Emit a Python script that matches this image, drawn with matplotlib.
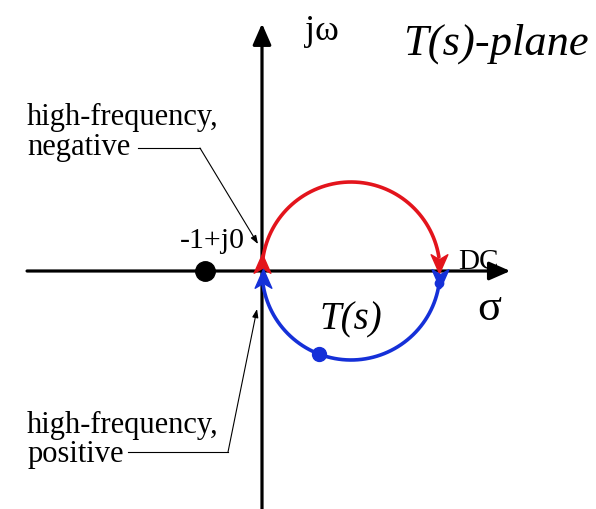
import numpy as np
import matplotlib
matplotlib.use("Agg")
import matplotlib.pyplot as plt
from matplotlib.patches import FancyArrowPatch
from matplotlib.path import Path

# Nyquist-style locus of T(s): a circle of unit radius centred on (1, 0)
center = (1.0, 0.0)
radius = 1.0
gap_deg = 6.0                       # small gap where each branch meets the real axis
critical_point = (-0.64, 0.0)       # "-1+j0"
marked_angle_deg = -111.0           # dot on the positive-frequency branch

# axis extents (data units)
x_axis = (-2.64, 2.79)
y_axis = (-2.68, 2.78)

RED = "#e3141c"
BLUE = "#1530d8"
SERIF = ["Liberation Serif", "DejaVu Serif"]

fig = plt.figure(figsize=(5.96, 5.10), dpi=100)
ax = fig.add_axes([0, 0, 1, 1])
ax.set_xlim(-2.944, 3.753)
ax.set_ylim(-2.674, 3.056)
ax.set_aspect("equal")
ax.axis("off")

# coordinate axes with arrow heads
for start, end in [((x_axis[0], 0), (x_axis[1], 0)), ((0, y_axis[0]), (0, y_axis[1]))]:
    ax.add_patch(FancyArrowPatch(start, end, arrowstyle="-|>,head_length=8,head_width=3.5",
                                 mutation_scale=1.6, lw=2.3, color="black",
                                 shrinkA=0, shrinkB=0, zorder=2))


def arc(t0, t1, n=200):
    t = np.radians(np.linspace(t0, t1, n))
    return center[0] + radius * np.cos(t), center[1] + radius * np.sin(t)


# stealth-shaped marker pointing up, used for heads and tails of the branches
stealth_up = Path([(0, 1.0), (0.75, -0.7), (0, -0.25), (-0.75, -0.7), (0, 1.0)],
                  [Path.MOVETO, Path.LINETO, Path.LINETO, Path.LINETO, Path.CLOSEPOLY])
stealth_down = Path([(x, -y) for x, y in stealth_up.vertices], stealth_up.codes)

# negative frequencies: from the origin clockwise over the top to DC
xr, yr = arc(180 - gap_deg, gap_deg + 3)
ax.plot(xr, yr, color=RED, lw=2.6, solid_capstyle="round", zorder=3)
ax.plot(xr[0], yr[0] - 0.04, marker=stealth_up, ms=16, color=RED, zorder=4)
ax.plot(xr[-1], yr[-1] - 0.06, marker=stealth_down, ms=16, color=RED, zorder=4)

# positive frequencies: from DC clockwise under the axis back to the origin
xb, yb = arc(-gap_deg, -180 + gap_deg + 3)
ax.plot(xb, yb, color=BLUE, lw=2.6, solid_capstyle="round", zorder=3)
ax.plot(xb[0], yb[0] + 0.04, marker=stealth_down, ms=16, color=BLUE, zorder=4)
ax.plot(xb[0] - 0.01, yb[0] - 0.03, "o", ms=6, color=BLUE, zorder=4)
ax.plot(xb[-1], yb[-1] + 0.06, marker=stealth_up, ms=16, color=BLUE, zorder=4)

ma = np.radians(marked_angle_deg)
ax.plot(center[0] + radius * np.cos(ma), center[1] + radius * np.sin(ma), "o",
        ms=10, color=BLUE, zorder=4)

# critical point
ax.plot(*critical_point, "o", ms=14, color="black", zorder=4)

# labels
ax.text(0.48, 2.61, "jω", fontsize=26, family=SERIF, va="baseline")
ax.text(1.58, 2.44, "T(s)-plane", fontsize=32, family=SERIF, style="italic", va="baseline")
ax.text(-0.92, 0.27, "-1+j0", fontsize=21.5, family=SERIF, va="baseline")
ax.text(2.20, 0.03, "DC", fontsize=21, family=SERIF, va="baseline")
ax.text(2.42, -0.54, "σ", fontsize=32, family=SERIF, va="baseline")
ax.text(0.65, -0.65, "T(s)", fontsize=28, family=SERIF, style="italic", va="baseline")

ax.text(-2.64, 1.65, "high-frequency,", fontsize=22, family=SERIF, va="baseline")
ax.text(-2.64, 1.315, "negative", fontsize=22, family=SERIF, va="baseline")
ax.text(-2.64, -1.81, "high-frequency,", fontsize=22, family=SERIF, va="baseline")
ax.text(-2.64, -2.135, "positive", fontsize=22, family=SERIF, va="baseline")

# leader lines from the labels to the ends of the locus
leaders = [
    [(-1.39, 1.382), (-0.697, 1.382), (-0.045, 0.303)],
    [(-1.51, -2.034), (-0.382, -2.034), (-0.056, -0.427)],
]
for pts in leaders:
    (x0, y0), (x1, y1), (x2, y2) = pts
    ax.plot([x0, x1], [y0, y1], color="black", lw=0.8, zorder=2)
    ax.annotate("", xy=(x2, y2), xytext=(x1, y1),
                arrowprops=dict(arrowstyle="-|>,head_length=0.5,head_width=0.18",
                                color="black", lw=0.8, shrinkA=0, shrinkB=0))

fig.savefig("out.png", dpi=100, facecolor="white")
